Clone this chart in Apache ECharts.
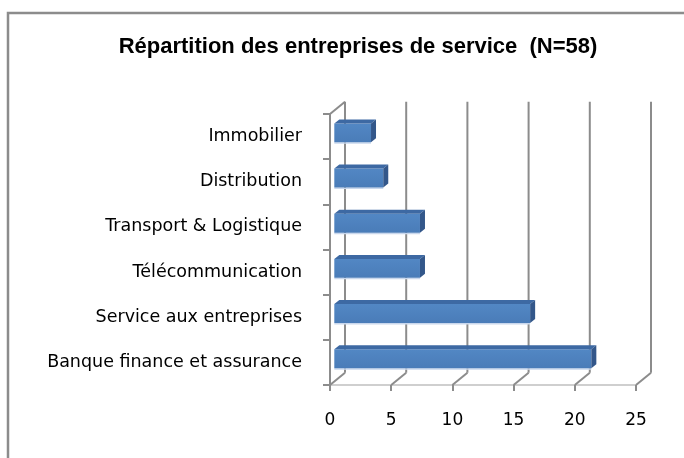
<!DOCTYPE html>
<html>
<head>
<meta charset="utf-8">
<script src="https://cdn.jsdelivr.net/npm/echarts@6/dist/echarts.min.js"></script>
<style>html,body{margin:0;padding:0;background:#fff}#c{width:684px;height:458px}</style>
</head>
<body>
<div id="c"></div>
<script>
// Data (bottom to top as drawn on the category axis)
const categories = ['Banque finance et assurance', 'Service aux entreprises', 'Télécommunication', 'Transport & Logistique', 'Distribution', 'Immobilier'];
const values = [21, 16, 7, 7, 4, 3];
const xTicks = [0, 5, 10, 15, 20, 25];
const titleText = 'Répartition des entreprises de service  (N=58)';

const chart = echarts.init(document.getElementById('c'), null, {renderer: 'canvas'});

const DX = 15, DY = -12.3;      // depth of 3D box
const OX = 4.3, OY = -3.7;      // bar front-face offset
const BX = 5, BY = -4;          // bar depth
const GRID_COLOR = '#8c8c8c';

function wallItem(params, api) {
  const cs = params.coordSys;
  const v = api.value(0);
  const x = api.coord([v, 0])[0];
  const bottom = cs.y + cs.height;
  const top = cs.y;
  const children = [
    {type: 'line', shape: {x1: x + DX, y1: bottom + DY, x2: x + DX, y2: top + DY}, style: {stroke: GRID_COLOR, lineWidth: 2}},
    {type: 'line', shape: {x1: x, y1: bottom, x2: x + DX, y2: bottom + DY}, style: {stroke: GRID_COLOR, lineWidth: 2}}
  ];
  if (v === 0) {
    children.push({type: 'line', shape: {x1: x, y1: top, x2: x + DX, y2: top + DY}, style: {stroke: GRID_COLOR, lineWidth: 2}});
  }
  return {type: 'group', children};
}

function barItem(params, api) {
  const v = api.value(0), c = api.value(1);
  const p0 = api.coord([0, c]);
  const p1 = api.coord([v, c]);
  const band = api.size([0, 1])[1];
  const h = band * 0.42;
  const x = p0[0] + OX;
  const y = p0[1] + OY - h / 2;
  const w = p1[0] - p0[0];
  return {
    type: 'group',
    children: [
      {type: 'rect', shape: {x: x, y: y + h, width: w, height: 1.5}, style: {fill: '#c9d7ec'}},
      {type: 'rect', shape: {x: x, y: y, width: w, height: h},
        style: {fill: new echarts.graphic.LinearGradient(0, 0, 0, 1, [{offset: 0, color: '#5287c4'}, {offset: 1, color: '#4a7cb8'}])}},
      {type: 'polygon', shape: {points: [[x, y], [x + BX, y + BY], [x + w + BX, y + BY], [x + w, y]]}, style: {fill: '#3d69a3'}},
      {type: 'polygon', shape: {points: [[x + w, y], [x + w + BX, y + BY], [x + w + BX, y + h + BY], [x + w, y + h]]}, style: {fill: '#33578a'}}
    ]
  };
}

chart.setOption({
  animation: false,
  backgroundColor: '#fff',
  textStyle: {fontFamily: 'DejaVu Sans'},
  graphic: [
    {type: 'rect', z: 0, shape: {x: 8, y: 13, width: 720, height: 500}, style: {fill: 'none', stroke: '#8c8c8c', lineWidth: 2.5}},
    {type: 'text', z: 10, x: 358, y: 47, style: {text: titleText, font: 'bold 22px "Liberation Sans"', fill: '#000', textAlign: 'center', textVerticalAlign: 'middle'}}
  ],
  grid: {left: 330, right: 48, top: 114, bottom: 73, containLabel: false},
  xAxis: {
    type: 'value', min: 0, max: 25, interval: 5,
    axisLine: {show: true, lineStyle: {color: '#cfcfcf', width: 2}},
    axisTick: {show: true, length: 6, lineStyle: {color: GRID_COLOR, width: 2}},
    axisLabel: {margin: 27, color: '#000', fontSize: 17, fontFamily: 'DejaVu Sans'},
    splitLine: {show: false}
  },
  yAxis: {
    type: 'category', data: categories,
    axisLine: {show: true, lineStyle: {color: GRID_COLOR, width: 2}},
    axisTick: {show: true, length: 7, lineStyle: {color: GRID_COLOR, width: 2}},
    axisLabel: {margin: 28, color: '#000', fontSize: 17.5, fontFamily: 'DejaVu Sans'},
    splitLine: {show: false}
  },
  series: [
    {type: 'custom', z: 1, renderItem: wallItem, encode: {x: 0, y: 1}, data: xTicks.map(v => [v, 0]), silent: true},
    {type: 'custom', z: 5, renderItem: barItem, encode: {x: 0, y: 1}, data: values.map((v, i) => [v, i])}
  ]
});
</script>
</body>
</html>
